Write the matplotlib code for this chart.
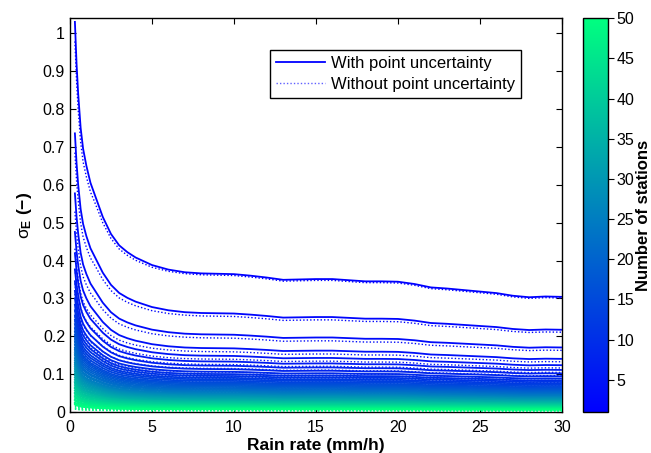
import numpy as np
import matplotlib
matplotlib.use("Agg")
import matplotlib.pyplot as plt
from matplotlib.lines import Line2D
from matplotlib import cm, colors

# rain rate grid (mm/h)
rain_rate = [0.3, 0.4, 0.5, 0.65, 0.8, 1.0, 1.25, 1.5, 2.0, 2.5, 3.0, 3.5, 4,
             5, 6, 7, 8, 9, 10, 11, 12, 13, 14, 15, 16, 17, 18, 19, 20,
             21, 22, 23, 24, 25, 26, 27, 28, 29, 30]

# sigma_E of the single-station curve
sigma_one = [1.03, 0.92, 0.84, 0.75, 0.695, 0.65, 0.605, 0.575, 0.515, 0.47, 0.44, 0.422, 0.408,
             0.388, 0.376, 0.369, 0.366, 0.365, 0.364, 0.36, 0.355, 0.349, 0.35, 0.351, 0.351,
             0.348, 0.345, 0.345, 0.344, 0.338, 0.329, 0.326, 0.322, 0.318, 0.314, 0.307,
             0.303, 0.305, 0.304]

# sigma_E at 10 mm/h for 1..50 stations (the other curves follow the same shape)
level_10 = [0.364, 0.260, 0.204, 0.168, 0.148, 0.133, 0.122, 0.113, 0.106, 0.100,
            0.095, 0.090, 0.086, 0.082, 0.078, 0.075, 0.072, 0.069, 0.066, 0.063,
            0.060, 0.058, 0.055, 0.053, 0.050, 0.048, 0.046, 0.044, 0.042, 0.040,
            0.038, 0.036, 0.034, 0.032, 0.030, 0.028, 0.027, 0.025, 0.023, 0.022,
            0.020, 0.018, 0.017, 0.015, 0.014, 0.012, 0.011, 0.009, 0.008, 0.007]

# without point uncertainty: ratio to the solid line, along x and per station
dotted_x = [0.95, 0.95, 0.95, 0.95, 0.95, 0.955, 0.96, 0.965, 0.97, 0.975, 0.978, 0.98, 0.982,
            0.985, 0.988, 0.99, 0.99, 0.99, 0.99, 0.99, 0.99, 0.99, 0.99, 0.99, 0.99,
            0.99, 0.99, 0.99, 0.99, 0.99, 0.99, 0.99, 0.99, 0.99, 0.99, 0.99,
            0.99, 0.99, 0.99]
dotted_n = [1.0, 0.98, 0.965, 0.955, 0.95, 0.95, 0.95, 0.94, 0.94, 0.94,
            0.94, 0.93, 0.93, 0.93, 0.92, 0.92, 0.92, 0.91, 0.91, 0.90,
            0.90, 0.89, 0.88, 0.87, 0.86, 0.85, 0.84, 0.83, 0.82, 0.80,
            0.78, 0.76, 0.74, 0.72, 0.70, 0.68, 0.66, 0.64, 0.62, 0.60,
            0.58, 0.56, 0.54, 0.52, 0.50, 0.48, 0.46, 0.44, 0.42, 0.40]

stations = np.arange(1, 51)

plt.rcParams['font.family'] = ['Liberation Sans', 'DejaVu Sans']
plt.rcParams['font.size'] = 11.5
plt.rcParams['mathtext.fontset'] = 'custom'
plt.rcParams['mathtext.rm'] = 'Liberation Sans'
plt.rcParams['mathtext.it'] = 'Liberation Sans'
plt.rcParams['mathtext.bf'] = 'Liberation Sans:bold'

fig = plt.figure(figsize=(6.51, 4.53), dpi=100)
ax = fig.add_axes([0.1075, 0.0905, 0.7558, 0.8695])
cax = fig.add_axes([0.8955, 0.0905, 0.0384, 0.8695])

cmap = matplotlib.colormaps['winter']
norm = colors.Normalize(vmin=1, vmax=50)

x = np.array(rain_rate)
shape = np.array(sigma_one) / sigma_one[rain_rate.index(10)]
for i, n in enumerate(stations):
    solid = np.array(sigma_one) if n == 1 else shape * level_10[i]
    dotted = solid * np.array(dotted_x) * dotted_n[i]
    c = cmap(norm(n))
    ax.plot(x, solid, color=c, lw=1.3, zorder=2 + 2 * i)
    ax.plot(x, dotted, color=c, lw=1.0, ls=(0, (1, 1.5)), zorder=3 + 2 * i)

ax.set_xlim(0, 30)
ax.set_ylim(0, 1.04)
ax.set_xticks(np.arange(0, 31, 5))
ax.set_yticks(np.arange(0, 1.01, 0.1))
ax.set_yticklabels(['0', '0.1', '0.2', '0.3', '0.4', '0.5', '0.6', '0.7', '0.8', '0.9', '1'])
ax.tick_params(direction='in', top=True, right=True, length=4, width=0.8)
ax.tick_params(axis='x', pad=6)
for s in ax.spines.values():
    s.set_linewidth(1.0)

ax.set_xlabel('Rain rate (mm/h)', fontweight='bold', fontsize=12.5, labelpad=2)
ax.set_ylabel(r'$\sigma_{\mathbf{E}}$ (−)', fontweight='bold', fontsize=12.5, labelpad=6)

handles = [Line2D([], [], color='#0000ff', lw=1.3),
           Line2D([], [], color='#6060ff', lw=1.0, ls=(0, (1, 1.5)))]
leg = ax.legend(handles, ['With point uncertainty', 'Without point uncertainty'],
                loc='upper right', bbox_to_anchor=(0.917, 0.919), fancybox=False,
                edgecolor='black', framealpha=1, fontsize=12, handlelength=2.9,
                borderpad=0.35, labelspacing=0.35, handletextpad=0.4, borderaxespad=0)
leg.get_frame().set_linewidth(1.0)

sm = cm.ScalarMappable(norm=norm, cmap=cmap)
cb = fig.colorbar(sm, cax=cax)
cb.set_ticks(np.arange(5, 51, 5))
cb.set_label('Number of stations', fontweight='bold', fontsize=12, labelpad=1)
cb.outline.set_linewidth(1.0)
cax.tick_params(length=4, width=0.8, pad=2)

fig.savefig('out.png', dpi=100)
